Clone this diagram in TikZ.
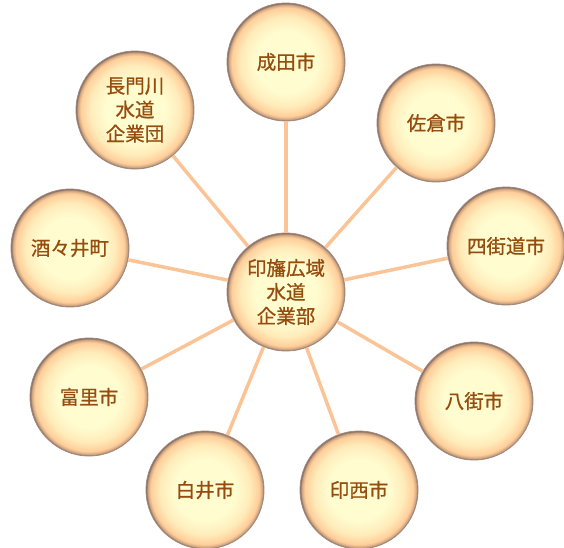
\documentclass[tikz,border=0pt]{standalone}
\usepackage{fontspec}
\newfontfamily\jp[FakeBold=0.8]{Noto Sans CJK JP}
\usepackage{xcolor}
\usepackage{tikz}
\usetikzlibrary{positioning}
\definecolor{linkpeach}{RGB}{250,196,150}
\definecolor{textbrown}{RGB}{150,76,14}
\definecolor{ballin}{RGB}{255,252,208}
\definecolor{ballmid}{RGB}{255,236,186}
\definecolor{ballout}{RGB}{255,206,154}
\definecolor{ballrim}{RGB}{128,100,88}
\pgfdeclareradialshading{ball}{\pgfpoint{0bp}{0bp}}{color(0bp)=(ballin); color(13bp)=(ballin); color(19bp)=(ballmid); color(23bp)=(ballout); color(24.2bp)=(ballout!65!ballrim); color(25bp)=(ballrim); color(50bp)=(ballrim)}
\tikzstyle{city} = [circle, minimum size=118pt, inner sep=0pt, align=center, shading=ball, draw=ballrim!75, line width=0.8pt, text=textbrown, font=\jp\fontsize{19.5}{24}\selectfont]
\tikzstyle{link} = [line width=3.5pt, linkpeach]

\begin{document}
\begin{tikzpicture}[x=1pt, y=-1pt]
    \useasboundingbox (0,0) rectangle (564,547);
    \node(hub)[city] at (286,292) {印旛広域\\水道\\企業部};
    %
    \node(narita)[city] at (286,62) {成田市};
    \node(sakura)[city] at (436,123) {佐倉市};
    \node(yotsukaido)[city] at (506,246) {四街道市};
    \node(yachimata)[city] at (474,401) {八街市};
    \node(inzai)[city] at (359,490) {印西市};
    \node(shiroi)[city] at (205,490) {白井市};
    \node(tomisato)[city] at (89,397) {富里市};
    \node(shisui)[city] at (70,248) {酒々井町};
    \node(nagatoro)[city] at (135,110) {長門川\\水道\\企業団};
    %
    \foreach \n in {narita,sakura,yotsukaido,yachimata,inzai,shiroi,tomisato,shisui,nagatoro}
        \draw [link] (hub)--(\n);
\end{tikzpicture}
\end{document}
